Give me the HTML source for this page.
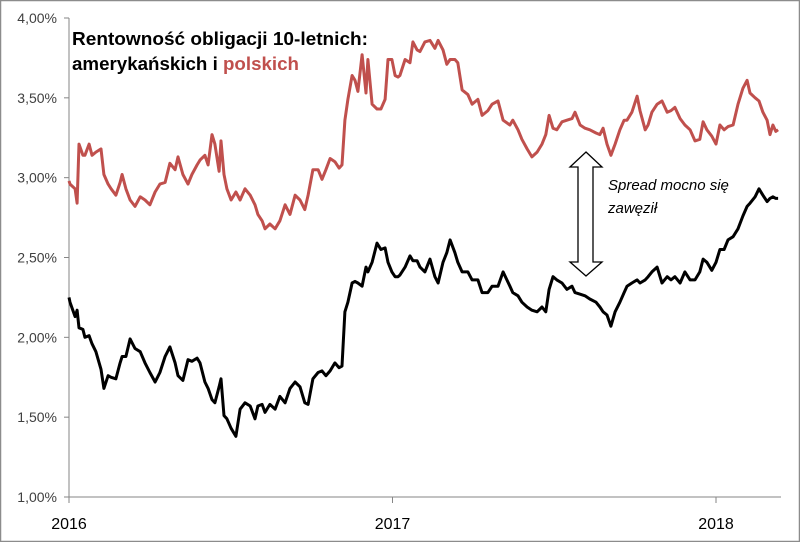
<!DOCTYPE html>
<html><head><meta charset="utf-8"><style>
body{margin:0;background:#fff}
svg{display:block;font-family:"Liberation Sans",sans-serif}
</style></head><body>
<svg id="chart" width="800" height="542" viewBox="0 0 800 542">
<rect x="0.5" y="0.5" width="799" height="541" fill="#fff" stroke="#8c8c8c" stroke-width="1.5"/>
<g id="axes"></g>
<g id="series"></g>
<g font-weight="bold" font-size="18" fill="#000">
<text x="72" y="45" textLength="296" lengthAdjust="spacingAndGlyphs">Rentowność obligacji 10-letnich:</text>
<text x="72" y="70" textLength="227" lengthAdjust="spacingAndGlyphs">amerykańskich i <tspan fill="#c0504d">polskich</tspan></text>
</g>
<path d="M586,152 L602,167 L593,167 L593,262 L602,262 L586,276 L570,262 L578,262 L578,167 L570,167 Z" fill="#fff" stroke="#000" stroke-width="1.3"/>
<g font-style="italic" font-size="15" fill="#000">
<text x="608" y="190">Spread mocno się</text>
<text x="608" y="213">zawęził</text>
</g>
</svg>
<script>
const dates=[0,0.003,0.019,0.025,0.031,0.043,0.049,0.062,0.071,0.083,0.099,0.108,0.121,0.130,0.145,0.158,0.164,0.176,0.189,0.204,0.220,0.235,0.250,0.266,0.281,0.297,0.312,0.328,0.337,0.352,0.368,0.380,0.396,0.405,0.420,0.430,0.442,0.451,0.464,0.470,0.479,0.488,0.501,0.516,0.529,0.544,0.560,0.575,0.584,0.597,0.606,0.621,0.637,0.652,0.668,0.683,0.699,0.714,0.729,0.739,0.754,0.770,0.782,0.794,0.807,0.822,0.835,0.844,0.853,0.862,0.875,0.884,0.893,0.906,0.918,0.924,0.937,0.952,0.964,0.977,0.986,0.998,1.008,1.017,1.023,1.039,1.054,1.063,1.076,1.085,1.100,1.116,1.131,1.141,1.156,1.168,1.178,1.193,1.202,1.215,1.233,1.246,1.264,1.277,1.295,1.308,1.326,1.342,1.363,1.372,1.388,1.400,1.416,1.431,1.447,1.462,1.474,1.484,1.496,1.508,1.524,1.539,1.555,1.564,1.580,1.595,1.610,1.629,1.641,1.651,1.663,1.675,1.688,1.703,1.716,1.725,1.740,1.756,1.765,1.781,1.790,1.802,1.818,1.833,1.849,1.861,1.873,1.889,1.904,1.920,1.935,1.950,1.960,1.972,1.987,2.000,2.012,2.025,2.037,2.053,2.068,2.083,2.096,2.105,2.121,2.133,2.145,2.158,2.167,2.176,2.185,2.192];
const plYield=[2.98,2.96,2.93,2.84,3.21,3.14,3.14,3.21,3.14,3.16,3.18,3.02,2.96,2.93,2.89,2.97,3.02,2.93,2.86,2.82,2.88,2.86,2.83,2.91,2.96,2.97,3.09,3.05,3.13,3.02,2.96,3.02,3.08,3.11,3.14,3.08,3.27,3.21,3.04,3.23,3.02,2.93,2.86,2.91,2.86,2.93,2.89,2.83,2.77,2.73,2.68,2.71,2.68,2.73,2.83,2.77,2.89,2.86,2.80,2.89,3.05,3.05,2.99,3.05,3.12,3.10,3.06,3.08,3.36,3.49,3.64,3.61,3.54,3.77,3.53,3.74,3.46,3.43,3.43,3.49,3.74,3.74,3.64,3.63,3.64,3.74,3.72,3.85,3.80,3.79,3.85,3.86,3.81,3.86,3.80,3.71,3.74,3.74,3.72,3.55,3.52,3.46,3.49,3.39,3.42,3.46,3.48,3.36,3.33,3.36,3.30,3.24,3.18,3.13,3.16,3.21,3.27,3.39,3.31,3.30,3.35,3.36,3.37,3.41,3.33,3.31,3.30,3.28,3.27,3.31,3.21,3.14,3.21,3.30,3.36,3.36,3.41,3.51,3.42,3.30,3.33,3.41,3.46,3.48,3.41,3.42,3.44,3.37,3.33,3.30,3.23,3.24,3.35,3.30,3.26,3.21,3.33,3.30,3.32,3.33,3.46,3.56,3.61,3.53,3.50,3.48,3.41,3.36,3.27,3.33,3.29,3.30];
const usYield=[2.25,2.22,2.13,2.17,2.06,2.05,2.00,2.01,1.96,1.91,1.80,1.68,1.76,1.75,1.74,1.84,1.88,1.88,1.99,1.93,1.91,1.84,1.78,1.72,1.78,1.88,1.94,1.84,1.76,1.73,1.86,1.85,1.87,1.84,1.72,1.68,1.61,1.59,1.69,1.74,1.51,1.49,1.43,1.38,1.55,1.59,1.57,1.49,1.57,1.58,1.53,1.58,1.55,1.63,1.59,1.68,1.72,1.69,1.59,1.58,1.74,1.78,1.79,1.76,1.79,1.84,1.81,1.82,2.16,2.22,2.34,2.35,2.34,2.32,2.44,2.41,2.47,2.59,2.55,2.56,2.47,2.41,2.38,2.38,2.39,2.44,2.51,2.48,2.48,2.44,2.41,2.49,2.38,2.34,2.47,2.53,2.61,2.53,2.47,2.41,2.41,2.36,2.36,2.28,2.28,2.32,2.32,2.41,2.32,2.28,2.26,2.22,2.19,2.17,2.16,2.19,2.16,2.30,2.38,2.36,2.34,2.30,2.32,2.28,2.27,2.26,2.24,2.22,2.19,2.16,2.14,2.07,2.16,2.22,2.28,2.32,2.34,2.36,2.34,2.36,2.38,2.41,2.44,2.34,2.38,2.36,2.38,2.34,2.41,2.36,2.36,2.41,2.49,2.47,2.42,2.47,2.55,2.55,2.61,2.63,2.68,2.76,2.82,2.84,2.88,2.93,2.89,2.85,2.87,2.88,2.87,2.87];
const yTicks=[1.0,1.5,2.0,2.5,3.0,3.5,4.0];
const yTickLabels=["1,00%","1,50%","2,00%","2,50%","3,00%","3,50%","4,00%"];
const xTicks=[0,1,2];
const xTickLabels=["2016","2017","2018"];

const NS="http://www.w3.org/2000/svg";
const X0=69,X1=781,YB=497,YT=18,PXY=323.5;
const xScale=t=>X0+t*PXY;
const yScale=v=>YB-(v-1)/3*(YB-YT);
function mk(tag,attrs,parent){const e=document.createElementNS(NS,tag);for(const k in attrs)e.setAttribute(k,attrs[k]);parent.appendChild(e);return e;}
const axes=document.getElementById('axes');
const yAxis=mk('line',{x1:X0,y1:YT,x2:X0,y2:YB,stroke:'#868686','stroke-width':1},axes);


const xAxis=mk('line',{x1:X0,y1:YB,x2:X1,y2:YB,stroke:'#868686','stroke-width':1},axes);


yTicks.forEach((v,i)=>{
  const y=yScale(v);
  const tk=mk('line',{x1:X0-5,y1:y,x2:X0,y2:y,stroke:'#868686'},axes);
  
  
  const t=mk('text',{x:X0-12,y:y+5,'text-anchor':'end','font-size':14,fill:'#404040'},axes);
  t.textContent=yTickLabels[i];
  
  
});
xTicks.forEach((v,i)=>{
  const x=xScale(v);
  const tk=mk('line',{x1:x,y1:YB,x2:x,y2:YB+6,stroke:'#868686'},axes);
  
  
  const t=mk('text',{x:x,y:529,'text-anchor':'middle','font-size':16,fill:'#000'},axes);
  t.textContent=xTickLabels[i];
  
  
});
const series=document.getElementById('series');
function line(vals,color,name){
  const n=Math.min(vals.length,dates.length);
  let d='';
  for(let i=0;i<n;i++)d+=(i?'L':'M')+xScale(dates[i]).toFixed(1)+','+yScale(vals[i]).toFixed(1);
  const p=mk('path',{d:d,fill:'none',stroke:color,'stroke-width':3,'stroke-linejoin':'round'},series);
  
  
}
line(plYield,'#c0504d','poland-yield-line');
line(usYield,'#000','us-yield-line');
</script>
</body></html>
